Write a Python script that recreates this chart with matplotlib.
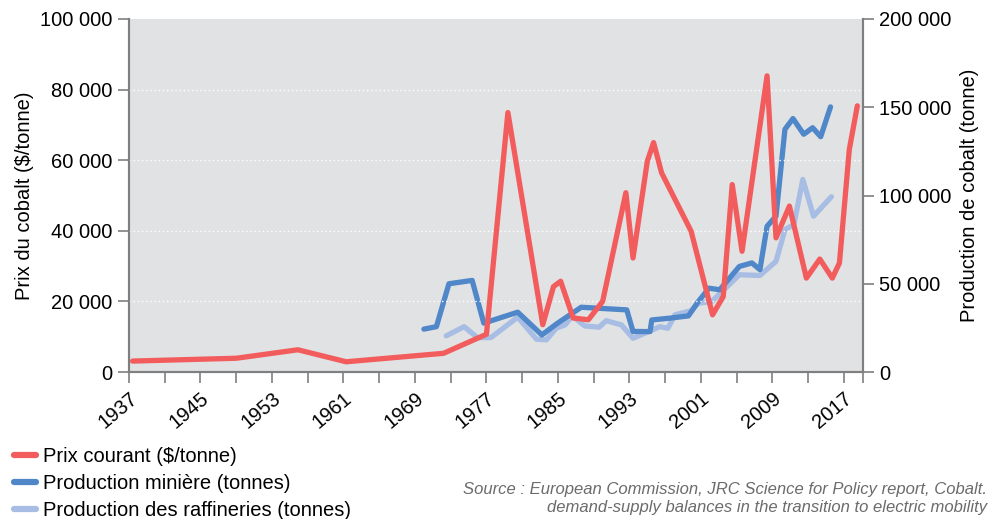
import matplotlib.pyplot as plt
from matplotlib.lines import Line2D

plt.rcParams['font.family'] = ['Liberation Sans', 'DejaVu Sans']

# Prix courant ($/tonne)
price_years = [1937.4, 1949.0, 1955.9, 1961.3, 1972.2, 1977.0, 1979.4, 1983.3,
               1984.5, 1985.3, 1986.7, 1988.4, 1990.0, 1992.6, 1993.4, 1995.0,
               1995.7, 1996.6, 1999.9, 2002.3, 2003.5, 2004.5, 2005.6, 2008.4,
               2009.4, 2010.9, 2012.8, 2014.3, 2015.7, 2016.5, 2017.6, 2018.5]
price = [3100, 3900, 6300, 2900, 5300, 10700, 73500, 13400,
         24200, 25700, 15300, 14800, 20000, 50800, 32300, 59700,
         65000, 56400, 39900, 16200, 21400, 53100, 34200, 83900,
         38000, 47000, 26600, 32000, 26600, 30900, 63000, 75400]

# Production miniere (tonnes)
mine_years = [1970.0, 1971.4, 1972.8, 1975.4, 1976.7, 1980.5, 1983.2, 1984.8,
              1987.6, 1992.7, 1993.4, 1995.3, 1995.5, 1997.5, 1999.6, 2000.7,
              2001.9, 2003.1, 2005.3, 2006.7, 2007.6, 2008.4, 2009.4, 2010.4,
              2011.3, 2012.5, 2013.5, 2014.4, 2015.5]
mine = [24300, 25700, 50000, 51900, 27700, 33900, 21000, 27100,
        36700, 35200, 23000, 22900, 29500, 30500, 31800, 39900,
        47500, 46600, 59800, 61800, 58000, 82600, 88300, 137500,
        143600, 134700, 138400, 133300, 150200]

# Production des raffineries (tonnes)
refi_years = [1972.5, 1974.5, 1976.0, 1977.5, 1980.5, 1982.6, 1983.7, 1984.8,
              1985.8, 1986.6, 1988.0, 1989.6, 1990.4, 1992.1, 1993.4, 1996.4,
              1997.3, 1998.1, 1999.9, 2000.7, 2002.2, 2005.3, 2007.6, 2009.4,
              2010.4, 2011.4, 2012.4, 2013.6, 2015.6]
refi = [20500, 25700, 19500, 19500, 31100, 18600, 18200, 24800,
        26700, 31800, 26100, 25400, 29100, 26700, 19100, 25700,
        24800, 32400, 34700, 39000, 39900, 55100, 54700, 62700,
        80700, 83500, 109100, 88300, 99300]

labels = ['Prix courant ($/tonne)', 'Production minière (tonnes)',
          'Production des raffineries (tonnes)']
colors = ['#f25c5c', '#4f87c9', '#a7bde3']

def fmt(v):
    return f"{int(v):,}".replace(",", " ")

FS = 14.5

fig = plt.figure(figsize=(9.9, 5.19), dpi=100)
ax = fig.add_axes([0.1303, 0.2832, 0.7411, 0.6802])
ax2 = ax.twinx()

ax.plot(price_years, price, color=colors[0], lw=3.8, solid_capstyle='round', zorder=3)
ax2.plot(mine_years, mine, color=colors[1], lw=3.8, solid_capstyle='round', zorder=3)
ax2.plot(refi_years, refi, color=colors[2], lw=3.8, solid_capstyle='round', zorder=2)
ax.set_zorder(ax2.get_zorder() + 1)
ax.patch.set_visible(False)
ax2.patch.set_visible(True)
ax2.patch.set_facecolor('#e1e2e4')

ax.set_xlim(1937, 2019.1)
ax.set_ylim(0, 100000)
ax2.set_ylim(0, 200000)

yt = [0, 20000, 40000, 60000, 80000, 100000]
ax.set_yticks(yt)
ax.set_yticklabels([fmt(v) for v in yt], fontsize=FS)
yt2 = [0, 50000, 100000, 150000, 200000]
ax2.set_yticks(yt2)
ax2.set_yticklabels([fmt(v) for v in yt2], fontsize=FS)

xt = list(range(1937, 2018, 4)) + [2019.1]
ax.set_xticks(xt)
ax.set_xticklabels([str(int(t)) if (t - 1937) % 8 == 0 else '' for t in xt],
                   rotation=40, ha='right', rotation_mode='anchor', fontsize=FS)

for a in (ax, ax2):
    a.tick_params(axis='both', length=8, width=1.2, color='#7f7f7f', pad=4)
    a.spines['top'].set_visible(False)
    for s in ('left', 'right', 'bottom'):
        a.spines[s].set_color('#7f7f7f')
        a.spines[s].set_linewidth(1.5)

for v in yt[1:-1]:
    ax.axhline(v, color='white', ls=(0, (1, 2)), lw=1.0, zorder=1)

ax.set_ylabel('Prix du cobalt ($/tonne)', fontsize=FS, labelpad=4)
ax2.set_ylabel('Production de cobalt (tonne)', fontsize=FS, labelpad=6)

handles = [Line2D([], [], color=c, lw=4.5, solid_capstyle='round') for c in colors]
fig.legend(handles, labels, loc='lower left', bbox_to_anchor=(0.0, -0.03),
           frameon=False, fontsize=FS, handlelength=1.1, handletextpad=0.35,
           labelspacing=0.42, borderaxespad=0.3)

fig.text(0.997, 0.008, 'Source : European Commission, JRC Science for Policy report, Cobalt.\n'
         'demand-supply balances in the transition to electric mobility',
         ha='right', va='bottom', fontsize=12, style='italic', color='#6b6b6b',
         multialignment='right', linespacing=1.2)

fig.savefig('out.png', dpi=100)
